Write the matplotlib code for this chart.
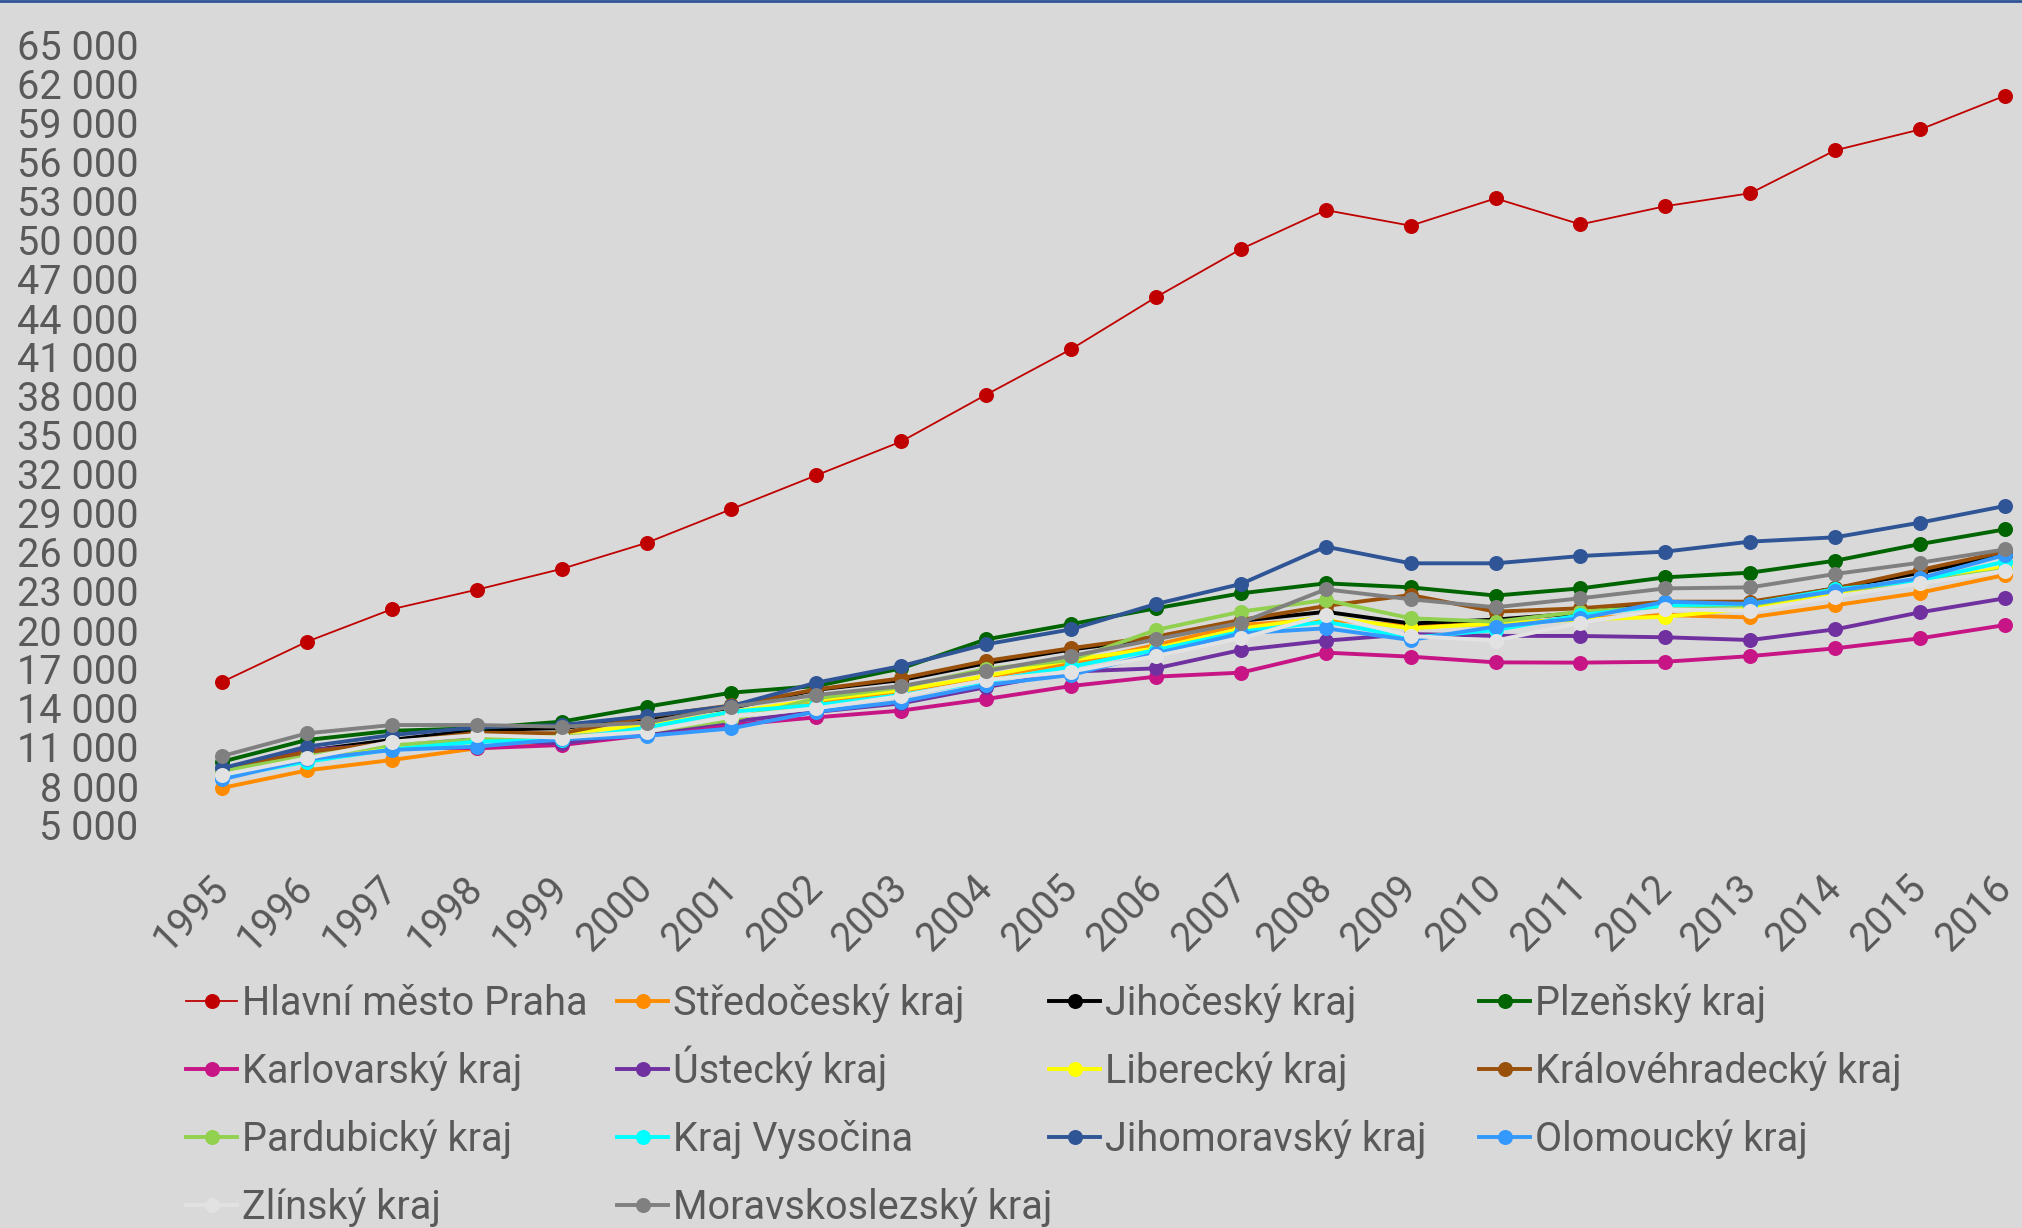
import matplotlib.pyplot as plt
from matplotlib.lines import Line2D
from matplotlib.ticker import FuncFormatter

years = [1995, 1996, 1997, 1998, 1999, 2000, 2001, 2002, 2003, 2004, 2005,
         2006, 2007, 2008, 2009, 2010, 2011, 2012, 2013, 2014, 2015, 2016]

regions = ['Hlavní město Praha', 'Středočeský kraj', 'Jihočeský kraj', 'Plzeňský kraj',
           'Karlovarský kraj', 'Ústecký kraj', 'Liberecký kraj', 'Královéhradecký kraj',
           'Pardubický kraj', 'Kraj Vysočina', 'Jihomoravský kraj', 'Olomoucký kraj',
           'Zlínský kraj', 'Moravskoslezský kraj']

praha = [16000, 19100, 21600, 23100, 24700, 26700, 29300, 31900, 34500, 38100, 41600,
         45600, 49300, 52300, 51100, 53200, 51200, 52600, 53600, 56900, 58500, 61100]
stredocesky = [7850, 9200, 10000, 10900, 11300, 12100, 13200, 14400, 15300, 16400, 17400,
               18850, 20400, 20800, 20300, 20450, 20900, 21150, 20970, 21900, 22870, 24230]
jihocesky = [9300, 10700, 11550, 12300, 12450, 13200, 14000, 15400, 16150, 17450, 18500,
             19350, 20700, 21400, 20500, 20800, 21300, 22100, 22100, 23200, 24400, 25800]
plzensky = [9870, 11540, 12250, 12440, 12950, 14100, 15180, 15690, 17050, 19280, 20450,
            21670, 22820, 23590, 23280, 22650, 23200, 24050, 24410, 25330, 26610, 27740]
karlovarsky = [9100, 10500, 11000, 10900, 11150, 11920, 12700, 13280, 13800, 14690, 15690,
               16410, 16720, 18260, 17950, 17510, 17490, 17560, 17990, 18590, 19360, 20380]
ustecky = [9250, 10770, 11200, 11600, 11280, 12050, 12950, 13700, 14360, 15600, 16800,
           17050, 18460, 19180, 19690, 19550, 19540, 19440, 19230, 20050, 21360, 22440]
liberecky = [9000, 10100, 11000, 11400, 12100, 12620, 13700, 14620, 15380, 16460, 17700,
             18590, 20100, 21020, 20130, 20510, 20800, 21020, 21670, 22900, 23600, 24870]
kralovehradecky = [9230, 10640, 11300, 12100, 12050, 13330, 14200, 15430, 16280, 17620, 18600,
                   19490, 20770, 21850, 22690, 21410, 21670, 22180, 22180, 23200, 24620, 26030]
pardubicky = [9150, 10300, 11150, 11590, 11800, 12200, 13080, 14740, 15600, 17000, 17690,
              20000, 21410, 22310, 20900, 20640, 21410, 21800, 21900, 23000, 23700, 24620]
vysocina = [8670, 9870, 10820, 11410, 11540, 12500, 13720, 14230, 15000, 16030, 17180,
            18460, 19870, 20640, 19400, 20000, 21150, 21900, 22000, 23130, 23800, 25260]
jihomoravsky = [9360, 11030, 11920, 12510, 12690, 13380, 14150, 15950, 17230, 18900, 20050,
                22000, 23540, 26410, 25130, 25130, 25690, 26030, 26800, 27130, 28260, 29540]
olomoucky = [8510, 10050, 10770, 11030, 11600, 11850, 12430, 13720, 14490, 15770, 16540,
             18200, 19740, 20130, 19230, 20260, 20900, 22180, 22000, 23000, 23980, 25770]
zlinsky = [8850, 10130, 11410, 11920, 11720, 12180, 13330, 13980, 14920, 16150, 16800,
           18000, 19360, 21150, 19540, 19180, 20560, 21590, 21490, 22560, 23590, 24560]
moravskoslezsky = [10300, 12050, 12690, 12690, 12560, 12870, 14100, 15000, 15690, 16850, 18000,
                   19280, 20560, 23130, 22360, 21750, 22440, 23200, 23280, 24310, 25180, 26200]

series = [praha, stredocesky, jihocesky, plzensky, karlovarsky, ustecky, liberecky,
          kralovehradecky, pardubicky, vysocina, jihomoravsky, olomoucky, zlinsky, moravskoslezsky]

colors = ['#C00000', '#FF8C00', '#000000', '#006400', '#C71585', '#7030A0', '#FFFF00',
          '#99500A', '#92D050', '#00FFFF', '#2F5597', '#3399FF', '#E2E2E2', '#808080']

BG = '#D9D9D9'
TXT = '#595959'
FONT = ['Roboto', 'DejaVu Sans']
FS = 28.5


def thousands(v, pos):
    return f"{int(v):,}".replace(",", " ")


def main():
    plt.rcParams['font.family'] = FONT
    fig = plt.figure(figsize=(20.22, 12.28), dpi=100, facecolor=BG)
    ax = fig.add_axes([222 / 2022, 1 - 825 / 1228, 1783 / 2022, 780 / 1228])
    ax.set_facecolor(BG)

    handles = []
    for i, (name, vals) in enumerate(zip(regions, series)):
        lw = 1.3 if i == 0 else 2.8
        line, = ax.plot(years, vals, color=colors[i], lw=lw, marker='o',
                        markersize=10.8, markeredgewidth=0, clip_on=False,
                        label=name, zorder=2 + i)
        handles.append(line)

    ax.set_xlim(1995, 2016)
    ax.set_ylim(5000, 65000)
    ax.set_yticks(range(5000, 65001, 3000))
    ax.yaxis.set_major_formatter(FuncFormatter(thousands))
    ax.set_xticks(years)
    ax.set_xticklabels([str(y) for y in years], rotation=45, ha='right',
                       va='center', rotation_mode='anchor')
    ax.tick_params(axis='y', length=0, pad=60, labelsize=FS, labelcolor=TXT)
    ax.tick_params(axis='x', length=0, pad=41, labelsize=FS, labelcolor=TXT)
    for s in ax.spines.values():
        s.set_visible(False)

    # legend: 4 columns filled row by row, one small legend per entry,
    # anchored at the bottom so accented capitals don't shift the row
    col_x = [186, 617, 1049, 1479]
    row_bottom = [1023, 1091, 1159, 1227]
    for k, h in enumerate(handles):
        r, c = divmod(k, 4)
        fig.legend([h], [regions[k]], loc='lower left',
                   bbox_to_anchor=(col_x[c] / 2022, 1 - row_bottom[r] / 1228),
                   bbox_transform=fig.transFigure, frameon=False, fontsize=FS,
                   labelcolor=TXT, borderpad=0, borderaxespad=0, handlelength=1.3,
                   handletextpad=0.12, numpoints=1)

    fig.add_artist(Line2D([0, 1], [0.999, 0.999], transform=fig.transFigure,
                          color='#2F5597', lw=2))
    fig.savefig('out.png', dpi=100, facecolor=BG)


if __name__ == "__main__":
    main()
